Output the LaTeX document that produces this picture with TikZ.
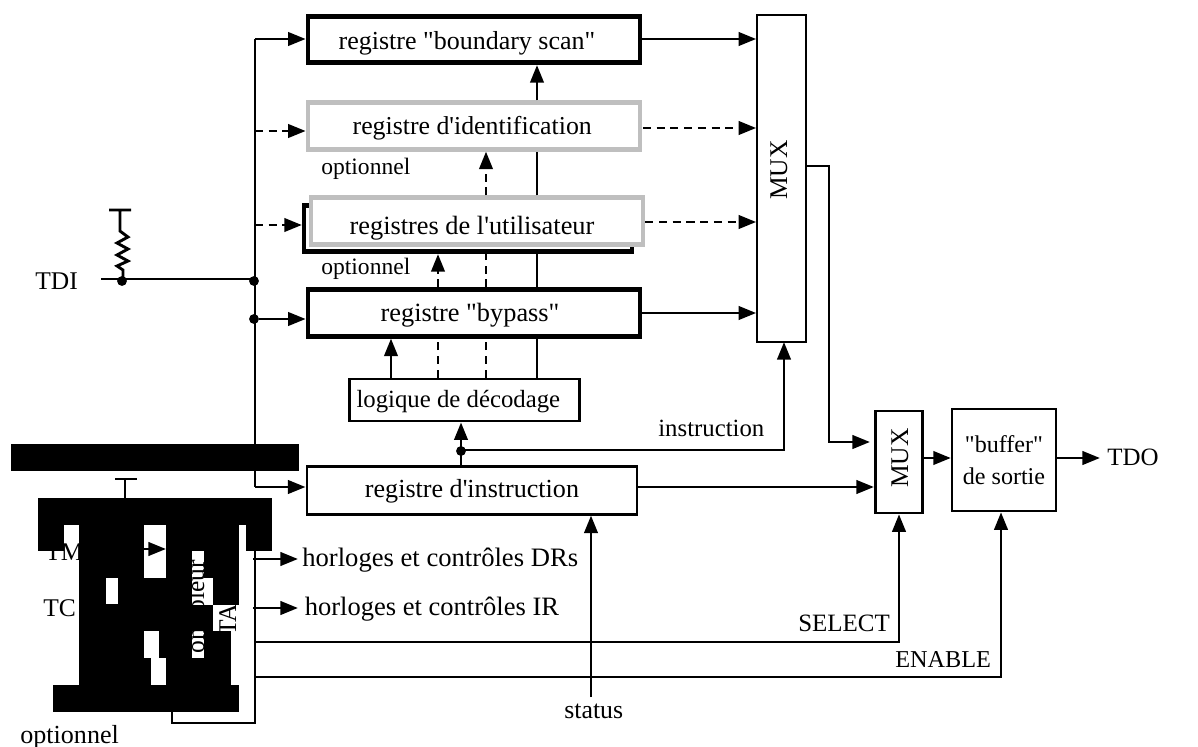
\documentclass[tikz,border=0pt]{standalone}
\usepackage{fontspec}
\usetikzlibrary{arrows.meta}
\newfontfamily\timesfont{Liberation Serif}
\tikzset{
  >={Triangle[length=10pt,width=7.6pt]},
  fs/.style={font=\timesfont\fontsize{#1pt}{18pt}\selectfont},
  every node/.style={fs=14.5},
  wire/.style={line width=1.65pt},
  dashwire/.style={wire,dash pattern=on 4.6pt off 3.2pt},
  regthick/.style={draw,fill=white,line width=2.6pt,minimum width=189pt,minimum height=26.5pt,inner sep=0pt,text depth=3pt},
  reggray/.style={regthick,draw=optgray},
  regthin/.style={draw,fill=white,line width=1.5pt,inner sep=0pt,text depth=3pt},
  dot/.style={circle,fill,inner sep=0pt,minimum size=5.6pt},
  lbl/.style={inner sep=0pt,anchor=base west},
  vlbl/.style={inner sep=0pt,anchor=base,rotate=90}
}
\definecolor{optgray}{gray}{0.75}
\begin{document}
\begin{tikzpicture}[x=0.02cm,y=-0.02cm]
  \useasboundingbox (0,0) rectangle (1198,747);
  \node[regthick,fs=14.8,text height=14.9pt] (bscan) at (474,39.5) {registre "boundary scan"\kern 8pt\mbox{}};
  \node[reggray,fs=14.7,text height=13.2pt] (ident) at (474,126) {registre d'identification\kern 2pt\mbox{}};
  \node[regthick,minimum width=186.5pt] (userb) at (468,228.5) {};
  \node[reggray,fs=15,text height=18.9pt] (user) at (477,221) {registres de l'utilisateur\kern 5.7pt\mbox{}};
  \node[regthick,fs=15,text height=13.2pt] (bypass) at (474,313) {registre "bypass"\kern 4.5pt\mbox{}};
  \node[regthin,fs=14.1,text height=12pt,minimum width=131pt,minimum height=24pt] (decod) at (464.5,400) {logique de décodage\kern 7pt\mbox{}};
  \node[regthin,fs=14.85,text height=10.4pt,minimum width=188pt,minimum height=27pt] (instr) at (472,490.5) {registre d'instruction};
  \node[regthin,line width=1.3pt,minimum width=27.5pt,minimum height=186pt] (muxa) at (781.5,178.5) {};
  \node[vlbl] (muxatxt) at (787,170) {MUX};
  \node[regthin,minimum width=27pt,minimum height=58pt] (muxb) at (899,462) {};
  \node[vlbl] (muxbtxt) at (908,458) {MUX};
  \node[regthin,fs=13.7,text depth=0pt,minimum width=59pt,minimum height=58pt,align=center] (buffer) at (1004,460) {"buffer"\\de sortie};
  \coordinate (tdiin) at (101,279);
  \node[dot] (jres) at (122,281) {};
  \node[dot] (jtdi) at (254,281) {};
  \node[dot] (jbyp) at (254,319) {};
  \node[dot] (jins) at (461,451) {};
  \coordinate (bustop) at (255,39);
  \coordinate (busbot) at (255,487);
  \coordinate (idin) at (255,131);
  \coordinate (usrin) at (255,225);
  \coordinate (xa) at (391,0);
  \coordinate (xb) at (438,0);
  \coordinate (xc) at (486,0);
  \coordinate (xd) at (537,0);
  \coordinate (xsel) at (899,0);
  \coordinate (xena) at (1001,0);
  \coordinate (xsta) at (591,0);
  \draw[wire,->] (bustop -| bscan.east) -- (bustop -| muxa.west);
  \draw[dashwire,->] (643,128) -- (muxa.west |- 0,128);
  \draw[dashwire,->] (user.east |- 0,222) -- (muxa.west |- 0,222);
  \draw[wire,->] (bypass.east) -- (bypass.east -| muxa.west);
  \draw[wire] (bustop) -- (busbot);
  \draw[wire,->] (bustop) -- (bustop -| bscan.west);
  \draw[dashwire,->] (idin) -- (idin -| ident.west);
  \draw[dashwire,->] (usrin) -- (usrin -| userb.west);
  \draw[wire,->] (jbyp) -- (jbyp -| bypass.west);
  \draw[wire,->] (busbot) -- (busbot -| instr.west);
  \draw[wire] (tdiin) -- (tdiin -| jtdi);
  \draw[wire] (109,210) -- (131,210) (120,210) -- (120,231) -- (128,237) -- (117,243) -- (128,249) -- (117,255) -- (128,261) -- (117,266) -- (123,270) -- (123,279);
  \draw[wire,->] (xa |- decod.north) -- (xa |- bypass.south);
  \draw[dashwire] (xb |- decod.north) -- (xb |- bypass.south);
  \draw[dashwire,->] (xb |- bypass.north) -- (xb |- userb.south);
  \draw[dashwire] (xc |- decod.north) -- (xc |- bypass.south);
  \draw[dashwire] (xc |- bypass.north) -- (xc |- userb.south);
  \draw[dashwire,->] (xc |- user.north) -- (xc |- ident.south);
  \draw[wire] (xd |- decod.north) -- (xd |- bypass.south);
  \draw[wire] (xd |- bypass.north) -- (xd |- userb.south);
  \draw[wire] (xd |- user.north) -- (xd |- ident.south);
  \draw[wire,->] (xd |- ident.north) -- (xd |- bscan.south);
  \draw[wire,->] (jins |- instr.north) -- (jins |- decod.south);
  \draw[wire,->] (461,450) -- (784,450) -- (784,342);
  \draw[wire,->] (muxa.east |- 0,166) -- (829,166) -- (829,442) -- (870,442);
  \draw[wire,->] (instr.east |- 0,487) -- (muxb.west |- 0,487);
  \draw[wire,->] (muxb.east |- 0,458) -- (buffer.west |- 0,458);
  \node[lbl,fs=14.2] (tdo) at (1107,465) {TDO};
  \draw[wire,->] (buffer.east |- 0,458) -- (1100,458);
  \coordinate (ctla) at (255,551);
  \coordinate (ctlb) at (255,723);
  \coordinate (ctlc) at (172,723);
  \coordinate (ctld) at (172,705);
  \draw[wire] (ctla) -- (ctlb) -- (ctlc) -- (ctld);
  \draw[wire,->] (253,559) -- (298,559);
  \draw[wire,->] (253,608) -- (298,608);
  \draw[wire,->] (255,642) -- (899,642) -- (xsel |- muxb.south);
  \draw[wire,->] (255,677) -- (1001,677) -- (xena |- buffer.south);
  \draw[wire,->] (591,697) -- (xsta |- instr.south);
  \draw[wire] (115,479) -- (137,479) (125,479) -- (125,498);
  \draw[wire,->] (110,549) -- (166,549);
  \node[lbl] (tdi) at (35,289) {TDI};
  \node[lbl,fs=13.4] (optid) at (321,174) {optionnel};
  \node[lbl,fs=13.4] (optus) at (321,274) {optionnel};
  \node[lbl,fs=14.85] (optct) at (20,743) {optionnel};
  \node[lbl,fs=14.1] (tinstr) at (658,436) {instruction};
  \node[lbl,fs=14.2] (tselect) at (798,631) {SELECT};
  \node[lbl,fs=13.8] (tenable) at (895,667) {ENABLE};
  \node[lbl,fs=14.7] (tstatus) at (564,718) {status};
  \node[lbl,fs=15.15] (tdrs) at (302,566) {horloges et contrôles DRs};
  \node[lbl,fs=15.1] (tir) at (304.5,615) {horloges et contrôles IR};
  \node[lbl] (ttm) at (45,560) {TM};
  \node[lbl] (ttc) at (43,616) {TC};
  \node[anchor=base east,inner sep=0pt,rotate=90] (tleur) at (204,560) {ôleur};
  \node[anchor=base west,inner sep=0pt,rotate=90] (ton) at (204,654) {on};
  \node[anchor=base west,inner sep=0pt,rotate=90] (tta) at (236,636) {TA};
  \foreach \xa/\ya/\xb/\yb in {11/444/299/471,38/498/272/525,38/525/64/551,246/525/272/551,
    79/525/144/685,166/525/239/551,166/551/192/578,204/551/239/578,144/578/192/605,213/578/239/605,
    144/605/213/631,159/631/192/658,204/631/231/658,144/658/151/685,166/658/231/685,53/685/239/712}
    \fill (\xa,\ya) rectangle (\xb,\yb);
  \fill[white] (106,578) rectangle (118,604);
\end{tikzpicture}
\end{document}
